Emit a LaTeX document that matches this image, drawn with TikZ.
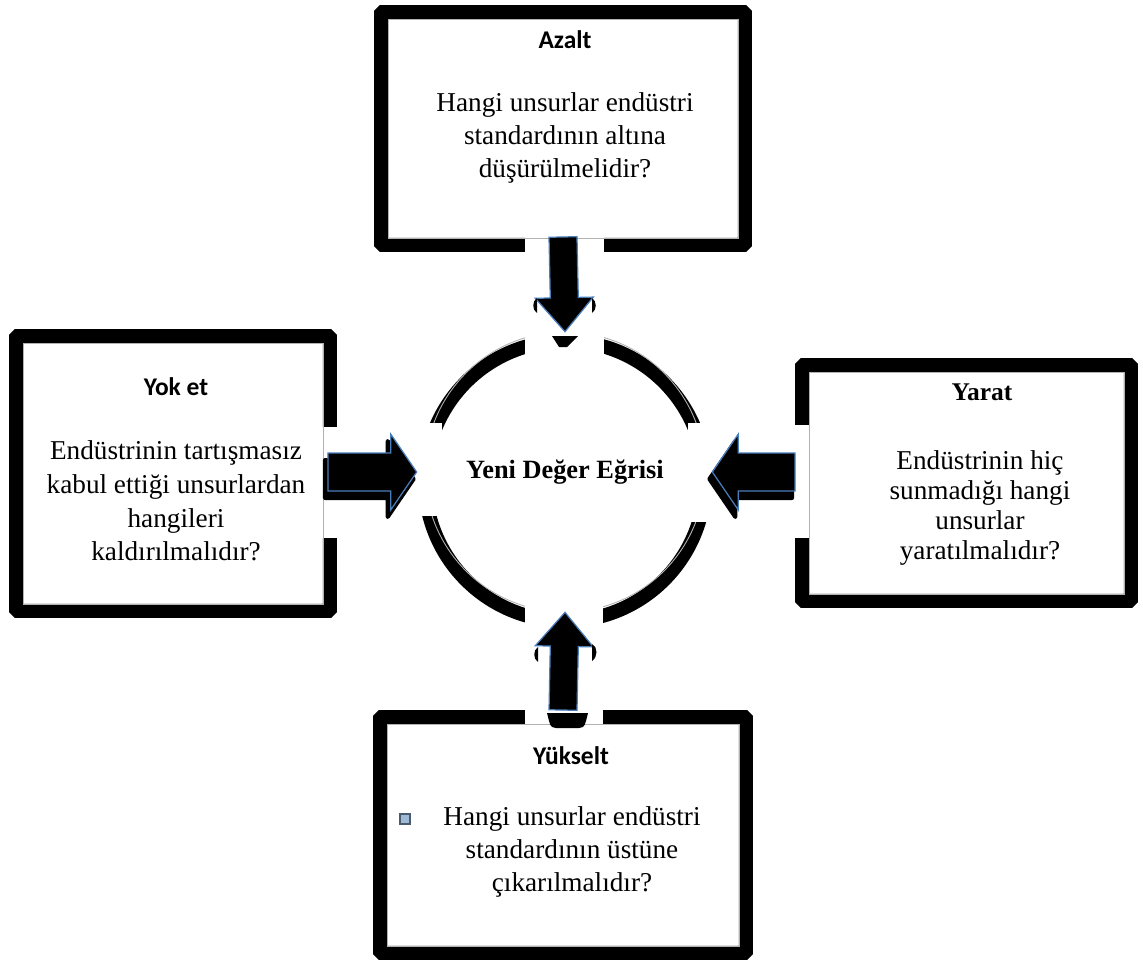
\documentclass[tikz,border=0pt]{standalone}
\usepackage{fontspec}
\setmainfont{Liberation Serif}
\newfontfamily\calibri{Carlito}
\usepackage{tikz}
\usetikzlibrary{calc}
\definecolor{okmavi}{HTML}{4A7EBB}
\definecolor{maddeic}{HTML}{9DBBD6}
\definecolor{maddekenar}{HTML}{4B5B6B}

\tikzset{
  kutu/.style={draw=black, fill=white, line width=0.28cm, rounded corners=1pt},
  iccizgi/.style={draw=black!30, line width=0.5pt},
  baslik/.style={font=\calibri\bfseries\fontsize{14.5}{17}\selectfont},
  baslikserif/.style={font=\bfseries\fontsize{14.5}{17}\selectfont},
  metin/.style={align=center, font=\fontsize{15.5}{18.7}\selectfont},
  halka/.style={circle, inner sep=0pt, minimum size=5.6cm,
    font=\bfseries\fontsize{15}{18}\selectfont},
  halkacizgi/.style={draw=black, line width=0.28cm},
  madde/.style={draw=maddekenar, fill=maddeic, line width=1.3pt,
    inner sep=0pt, minimum size=0.2cm},
  golge/.style={fill=black},
  % block arrow from start to target: half shaft, half head, head length
  blokok/.style n args={3}{to path={
    let \p1=(\tikztostart), \p2=(\tikztotarget),
        \n1={atan2(\y2-\y1,\x2-\x1)} in
    -- ($(\p1)+(\n1+90:#1)$)
    -- ($(\p2)+(\n1+180:#3)+(\n1+90:#1)$)
    -- ($(\p2)+(\n1+180:#3)+(\n1+90:#2)$)
    -- (\p2)
    -- ($(\p2)+(\n1+180:#3)+(\n1-90:#2)$)
    -- ($(\p2)+(\n1+180:#3)+(\n1-90:#1)$)
    -- ($(\p1)+(\n1-90:#1)$)
    -- cycle}},
  okstil/.style={fill=black, draw=okmavi, line width=0.7pt},
  dikok/.style={okstil, blokok={0.28cm}{0.58cm}{0.68cm}},
  yatayok/.style={okstil, blokok={0.38cm}{0.76cm}{0.52cm},
    preaction={fill=black, draw=black, line width=0.08cm, line join=round,
      transform canvas={xshift=-0.06cm, yshift=-0.14cm}}},
}

\begin{document}
\begin{tikzpicture}[x=0.02cm, y=-0.02cm]
\path[use as bounding box, fill=white] (0,0) rectangle (1143,964);

%%% the four boxes
\node[kutu, minimum width=7.28cm, minimum height=4.66cm] (azalt) at (563,128.5) {};
\node[kutu, minimum width=6.28cm, minimum height=5.5cm] (yoket) at (173,473.5) {};
\node[kutu, minimum width=6.58cm, minimum height=4.72cm] (yarat) at (966.5,483) {};
\node[kutu, minimum width=7.32cm, minimum height=4.72cm] (yukselt) at (563,835) {};

%%% the curve in the middle
\node[halka] (egri) at (565,472) {Yeni Değer Eğrisi};
\draw[halkacizgi] ([yshift=-0.18cm]egri.center) circle[radius=2.8cm];
\draw[iccizgi] (egri.center) circle[radius=2.8cm];

% openings where the arrows pass
\fill[white] (525,226) rectangle (604,362);
\fill[white] (525,598) rectangle (603,727);
\fill[white] (316,427) rectangle (345,538);
\fill[white] (405,423) rectangle (442,516);
\fill[white] (688,423) rectangle (725,522);
\fill[white] (788,425) rectangle (809,538);

\foreach \k in {azalt,yoket,yarat,yukselt}
  \draw[iccizgi] ([shift={(0.28cm,-0.28cm)}]\k.north west)
    rectangle ([shift={(-0.28cm,0.28cm)}]\k.south east);

%%% arrows
\path (azalt.south) ++(0cm,0.3cm) coordinate (azalt-ok);
\path (yoket.east |- egri.center) ++(-0.18cm,0cm) coordinate (yoket-ok);
\path (yarat.west |- egri.center) coordinate (yarat-ok);
\path (egri.west) ++(-0.16cm,0cm) coordinate (egri-sol);
\path (egri.east) ++(0.14cm,0cm) coordinate (egri-sag);
\draw[dikok] (azalt-ok) to (egri.north);
\draw[dikok] (yukselt.north) to (egri.south);
\draw[yatayok] (yoket-ok) to (egri-sol);
\draw[yatayok] (yarat-ok) to (egri-sag);

% shadow bits round the upright arrows
\fill[golge] (552,336) -- (578,336) -- (567,347) -- (559,347) -- cycle;
\fill[golge] (537,298) .. controls (532,301) and (532,310) .. (537,313) -- cycle;
\fill[golge] (592,298) .. controls (597,301) and (597,310) .. (592,313) -- cycle;
\fill[golge] (538,647) .. controls (533,650) and (533,659) .. (538,662) -- cycle;
\fill[golge] (592,644) .. controls (598,647) and (598,657) .. (592,661) -- cycle;
\fill[golge] (547,713) -- (588,713) -- (586,721) .. controls (584,727) .. (579,728)
  -- (556,728) .. controls (551,727) .. (549,721) -- cycle;

%%% texts
\node[baslik] (azalt-b) at (565,40) {Azalt};
\node[metin] (azalt-m) at (565,138) {Hangi unsurlar endüstri\\standardının altına\\düşürülmelidir?};
\node[baslik] (yoket-b) at (176,387) {Yok et};
\node[metin, font=\fontsize{15.5}{19.2}\selectfont] (yoket-m) at (176,501)
  {Endüstrinin tartışmasız\\kabul ettiği unsurlardan\\hangileri\\kaldırılmalıdır?};
\node[baslikserif] (yarat-b) at (982,392) {Yarat};
\node[metin, font=\fontsize{15.5}{17}\selectfont] (yarat-m) at (980,508)
  {Endüstrinin hiç\\sunmadığı hangi\\unsurlar\\yaratılmalıdır?};
\node[baslik] (yukselt-b) at (571,756) {Yükselt};
\node[metin] (yukselt-m) at (572,852) {Hangi unsurlar endüstri\\standardının üstüne\\çıkarılmalıdır?};
\node[madde] (madde) at (405,819) {};
\end{tikzpicture}
\end{document}
